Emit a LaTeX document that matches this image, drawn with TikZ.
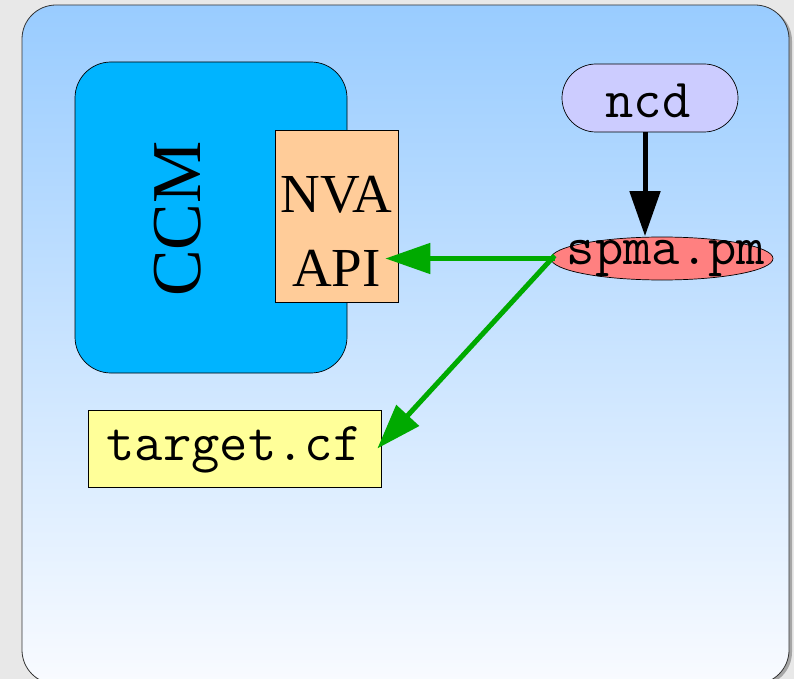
\documentclass[tikz,border=0pt]{standalone}
\usepackage{fontspec}
\setmainfont{Liberation Serif}
\usetikzlibrary{arrows.meta,shapes.geometric,calc}
\definecolor{bggrey}{HTML}{E8E8E8}
\definecolor{topblue}{HTML}{99CCFF}
\definecolor{botblue}{HTML}{F9FBFF}
\definecolor{ccmblue}{HTML}{00B4FF}
\definecolor{apiorange}{HTML}{FFCC99}
\definecolor{ncdlilac}{HTML}{CCCCFF}
\definecolor{spmared}{HTML}{FF8080}
\definecolor{tgtyellow}{HTML}{FFFF99}
\definecolor{arrgreen}{HTML}{00AA00}
\tikzset{
  box/.style={draw=black, line width=0.7pt, inner sep=0pt},
  serifbig/.style={font=\fontsize{55}{66}\selectfont},
  monotext/.style={font=\ttfamily\fontsize{55}{64}\selectfont},
  bigarrow/.style={line width=5pt, -{Triangle[length=45pt,width=30pt]}},
}
\begin{document}
\begin{tikzpicture}[x=1pt,y=-1pt]
\useasboundingbox (0,0) rectangle (794,679);
\fill[bggrey] (0,0) rectangle (794,679);
% panel shadow
\fill[gray!70, rounded corners=34pt] (24,7) rectangle (792,686);
\shade[top color=topblue, bottom color=botblue, rounded corners=34pt] (22,5) rectangle (789,684);
\draw[black!80, line width=0.8pt, rounded corners=34pt] (22,5) rectangle (789,684);

% CCM
\node[box, fill=ccmblue, rounded corners=36pt, minimum width=272pt, minimum height=311pt] (ccm) at (211,217.5) {};
\node[font=\fontsize{70}{84}\selectfont, rotate=90] (ccmlabel) at (178,219) {CCM};

% NVA API
\node[box, fill=apiorange, minimum width=123pt, minimum height=172pt] (api) at (336.5,216) {};
\node[serifbig] (nva) at (336.5,195) {NVA};
\node[serifbig] (apitxt) at (336.5,268) {API};

% ncd
\node[box, fill=ncdlilac, rounded corners=34pt, minimum width=176pt, minimum height=68pt] (ncd) at (650,98) {};
\node[monotext] (ncdtxt) at (648,101) {ncd};

% spma.pm
\node[box, ellipse, fill=spmared, minimum width=222pt, minimum height=43pt] (spma) at (662,258.5) {};
\node[monotext] (spmatxt) at (666,259) {spma.pm};

% target.cf
\node[box, fill=tgtyellow, minimum width=293pt, minimum height=77pt] (target) at (234.5,448.5) {};
\node[monotext] (targettxt) at (234,450) {target.cf};

% arrows
\draw[bigarrow, black] ([xshift=-5pt]ncd.south) -- ([xshift=-17pt,yshift=0.5pt]spma.north);
\draw[bigarrow, arrgreen] ([xshift=4pt]spma.west) -- ([xshift=-13pt]api.east |- spma.west);
\draw[bigarrow, arrgreen] ([xshift=4pt,yshift=3pt]spma.west) -- ([xshift=-4pt]target.east);
\end{tikzpicture}
\end{document}
